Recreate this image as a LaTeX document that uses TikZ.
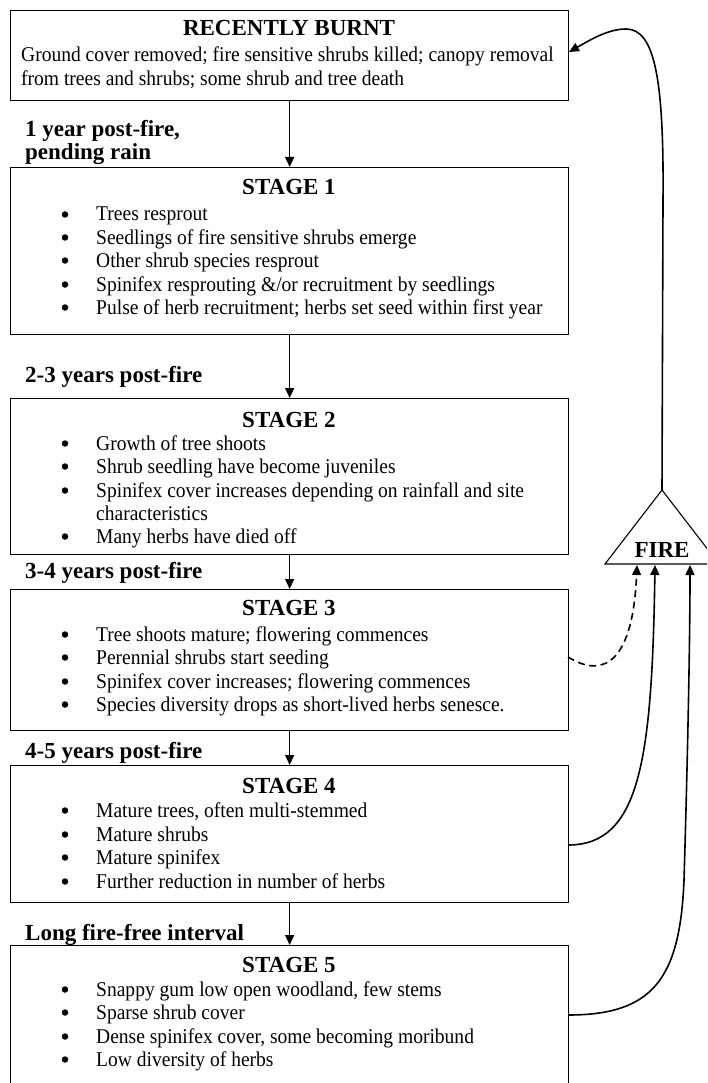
\documentclass[tikz,border=0pt]{standalone}
\usepackage{fontspec}
\setmainfont{Liberation Serif}
\newfontfamily\bodyfont{Liberation Serif}[FakeStretch=0.93]
\usetikzlibrary{arrows.meta}
\newcommand\bitem[3]{%
  \node[bul] (#1b) at (65,#2) {};
  \node[txt] (#1) at (96,#2) {#3};}
\begin{document}
\begin{tikzpicture}[x=1pt,y=-1pt,
  box/.style={draw, line width=1.3pt, inner sep=0pt, anchor=north west},
  ttl/.style={font=\fontsize{23}{26}\selectfont\bfseries, anchor=base, inner sep=0pt},
  lbl/.style={font=\fontsize{23}{26}\selectfont\bfseries, anchor=base west, inner sep=0pt},
  txt/.style={font=\bodyfont\fontsize{21}{24}\selectfont, anchor=base west, inner sep=0pt},
  bul/.style={circle, fill=black, inner sep=0pt, minimum size=6.5pt, yshift=6.5pt},
  flow/.style={line width=1.4pt, -{Triangle[length=10pt,width=9pt]}},
  loop/.style={line width=1.6pt, -{Triangle[length=10pt,width=9pt]}},
  ]
\useasboundingbox (0,0) rectangle (707,1083);
\clip (0,0) rectangle (707,1083);

% boxes
\node[box, minimum width=558pt, minimum height=90pt] (rb) at (10,10) {};
\node[box, minimum width=558pt, minimum height=167pt] (s1) at (10,167) {};
\node[box, minimum width=558pt, minimum height=156pt] (s2) at (10,398) {};
\node[box, minimum width=558pt, minimum height=141pt] (s3) at (10,589) {};
\node[box, minimum width=558pt, minimum height=137pt] (s4) at (10,765) {};
\node[box, minimum width=558pt, minimum height=160pt] (s5) at (10,945) {};

% recently burnt
\node[ttl] (rbt) at (289,36) {RECENTLY BURNT};
\node[txt] (rb1) at (21,62) {Ground cover removed; fire sensitive shrubs killed; canopy removal};
\node[txt] (rb2) at (21,86) {from trees and shrubs; some shrub and tree death};

% stage 1
\node[lbl] (l1a) at (25,137) {1 year post-fire,};
\node[lbl] (l1b) at (25,160) {pending rain};
\node[ttl] (s1t) at (289,195) {STAGE 1};
\bitem{s1i1}{221}{Trees resprout}
\bitem{s1i2}{244}{Seedlings of fire sensitive shrubs emerge}
\bitem{s1i3}{267}{Other shrub species resprout}
\bitem{s1i4}{291}{Spinifex resprouting \&/or recruitment by seedlings}
\bitem{s1i5}{314}{Pulse of herb recruitment; herbs set seed within first year}

% stage 2
\node[lbl] (l2) at (25,382) {2-3 years post-fire};
\node[ttl] (s2t) at (289,427) {STAGE 2};
\bitem{s2i1}{450}{Growth of tree shoots}
\bitem{s2i2}{473}{Shrub seedling have become juveniles}
\bitem{s2i3}{497}{Spinifex cover increases depending on rainfall and site}
\node[txt] (s2i3c) at (96,520) {characteristics};
\bitem{s2i4}{543}{Many herbs have died off}

% stage 3
\node[lbl] (l3) at (25,578) {3-4 years post-fire};
\node[ttl] (s3t) at (289,615) {STAGE 3};
\bitem{s3i1}{641}{Tree shoots mature; flowering commences}
\bitem{s3i2}{664}{Perennial shrubs start seeding}
\bitem{s3i3}{688}{Spinifex cover increases; flowering commences}
\bitem{s3i4}{711}{Species diversity drops as short-lived herbs senesce.}

% stage 4
\node[lbl] (l4) at (25,758) {4-5 years post-fire};
\node[ttl] (s4t) at (289,793) {STAGE 4};
\bitem{s4i1}{817}{Mature trees, often multi-stemmed}
\bitem{s4i2}{841}{Mature shrubs}
\bitem{s4i3}{864}{Mature spinifex}
\bitem{s4i4}{888}{Further reduction in number of herbs}

% stage 5
\node[lbl] (l5) at (25,940) {Long fire-free interval};
\node[ttl] (s5t) at (289,972) {STAGE 5};
\bitem{s5i1}{996}{Snappy gum low open woodland, few stems}
\bitem{s5i2}{1019}{Sparse shrub cover}
\bitem{s5i3}{1043}{Dense spinifex cover, some becoming moribund}
\bitem{s5i4}{1066}{Low diversity of herbs}

% vertical flow
\draw[flow] (rb.south) -- (s1.north);
\draw[flow] (s1.south) -- (s2.north);
\draw[flow] (s2.south) -- (s3.north);
\draw[flow] (s3.south) -- (s4.north);
\draw[flow] (s4.south) -- (s5.north);

% fire triangle
\coordinate (apex) at (662,490);
\coordinate (fl) at (605,564);
\coordinate (fr) at (719,564);
\draw[line width=1.1pt] (fl) -- (apex) -- (fr) -- cycle;
\node[ttl] (fire) at (662,557) {FIRE};

% connectors to fire
\coordinate (s3out) at (568,657);
\coordinate (s4out) at (568,845);
\coordinate (s5out) at (568,1015);
\coordinate (f1) at (637,565);
\coordinate (f2) at (655,565);
\coordinate (f3) at (690,565);
\coordinate (rbin) at (569,52);
\draw[loop, dash pattern=on 7pt off 4.5pt] (s3out) .. controls (605,680) and (633,660) .. (f1);
\draw[loop] (s4out) .. controls (640,845) and (652,760) .. (f2);
\draw[loop] (s5out) .. controls (652,1015) and (680,980) .. (684,880) .. controls (687,780) and (690,650) .. (f3);
\draw[loop] (apex) -- (663,200) .. controls (664,80) and (655,29) .. (626,29) .. controls (608,29) and (590,40) .. (rbin);
\end{tikzpicture}
\end{document}
